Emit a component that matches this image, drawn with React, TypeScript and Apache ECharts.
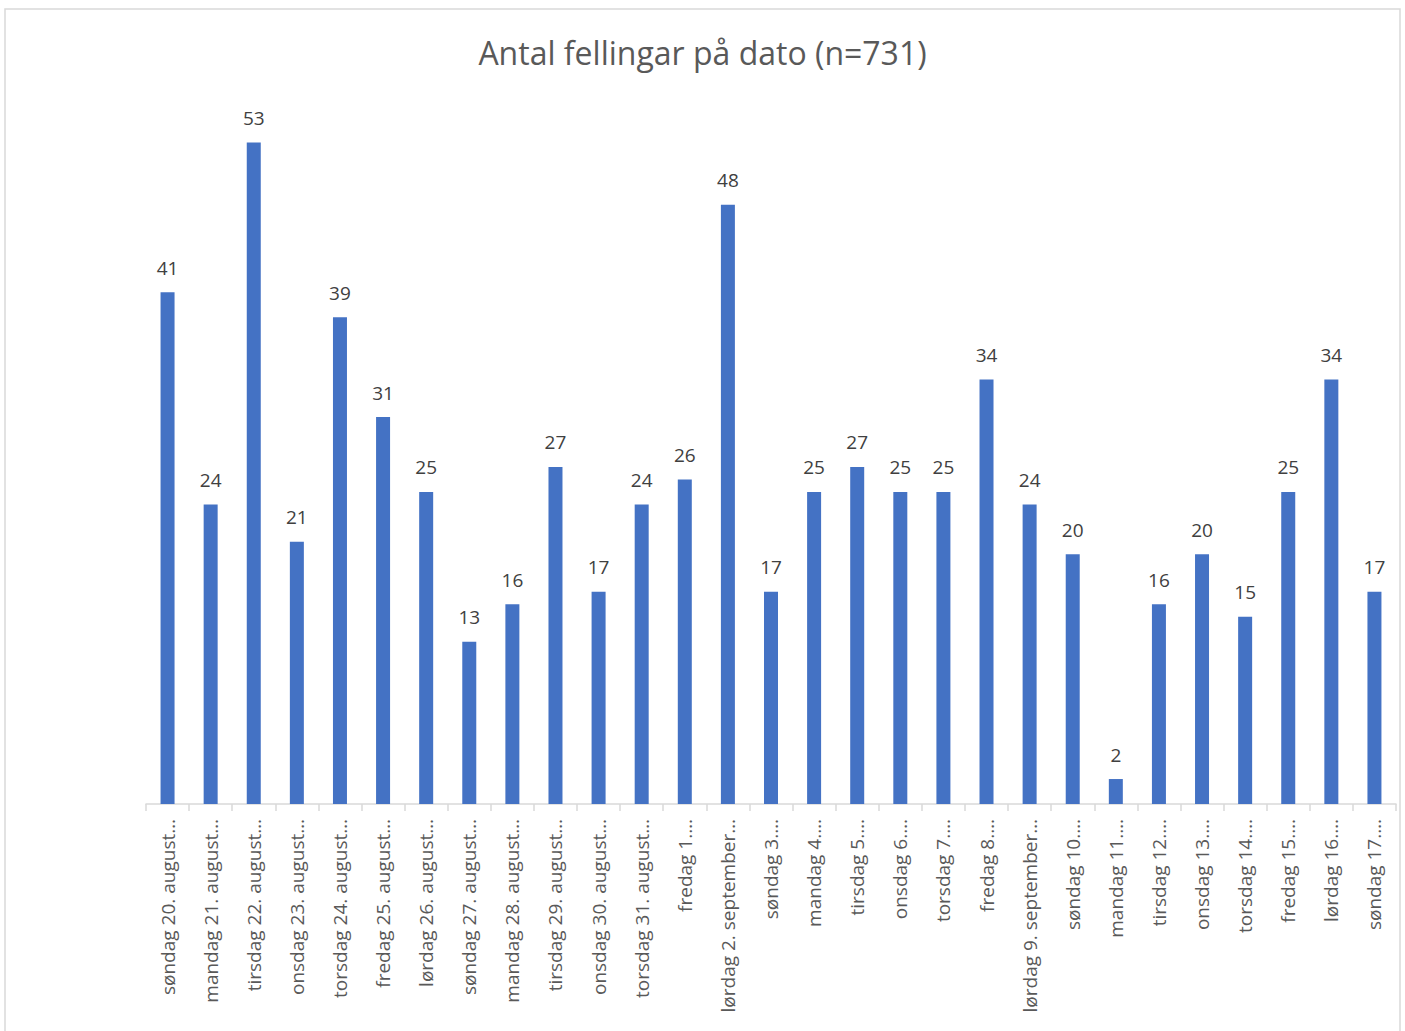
import React, { useEffect, useRef } from "react";
import * as echarts from "echarts";

const title = "Antal fellingar på dato (n=731)";

const categories = [
  "søndag 20. august…",
  "mandag 21. august…",
  "tirsdag 22. august…",
  "onsdag 23. august…",
  "torsdag 24. august…",
  "fredag 25. august…",
  "lørdag 26. august…",
  "søndag 27. august…",
  "mandag 28. august…",
  "tirsdag 29. august…",
  "onsdag 30. august…",
  "torsdag 31. august…",
  "fredag 1.…",
  "lørdag 2. september…",
  "søndag 3.…",
  "mandag 4.…",
  "tirsdag 5.…",
  "onsdag 6.…",
  "torsdag 7.…",
  "fredag 8.…",
  "lørdag 9. september…",
  "søndag 10.…",
  "mandag 11.…",
  "tirsdag 12.…",
  "onsdag 13.…",
  "torsdag 14.…",
  "fredag 15.…",
  "lørdag 16.…",
  "søndag 17.…",
];

const values = [
  41, 24, 53, 21, 39, 31, 25, 13, 16, 27, 17, 24, 26, 48, 17, 25, 27, 25, 25,
  34, 24, 20, 2, 16, 20, 15, 25, 34, 17,
];

export default function App() {
  const ref = useRef<HTMLDivElement>(null);
  useEffect(() => {
    if (!ref.current) return;
    const chart = echarts.init(ref.current, undefined, { renderer: "svg" });
    chart.setOption({
      animation: false,
      backgroundColor: "#ffffff",
      title: {
        text: title,
        left: "center",
        top: 31,
        textStyle: {
          fontFamily: "Open Sans",
          fontWeight: "normal",
          fontSize: 32,
          color: "#595959",
        },
      },
      graphic: [
        {
          type: "rect",
          shape: { x: 5, y: 9, width: 1395, height: 1040 },
          style: { fill: "none", stroke: "#d9d9d9", lineWidth: 1.5 },
          silent: true,
        },
      ],
      grid: { left: 146, right: 9, top: 55, bottom: 227, containLabel: false },
      xAxis: {
        type: "category",
        data: categories,
        axisLine: { lineStyle: { color: "#d9d9d9", width: 1.5 } },
        axisTick: { show: true, length: 7, lineStyle: { color: "#d9d9d9", width: 1.5 } },
        axisLabel: {
          interval: 0,
          rotate: 90,
          margin: 15,
          fontFamily: "Open Sans",
          fontSize: 19,
          color: "#595959",
        },
      },
      yAxis: {
        type: "value",
        min: 0,
        max: 60,
        show: false,
        splitLine: { show: false },
      },
      series: [
        {
          type: "bar",
          data: values,
          barWidth: 14,
          itemStyle: { color: "#4472C4" },
          label: {
            show: true,
            position: "top",
            distance: 15,
            fontFamily: "Open Sans",
            fontSize: 19,
            color: "#404040",
          },
        },
      ],
    });
    return () => chart.dispose();
  }, []);
  return (
    <div
      ref={ref}
      style={{ position: "absolute", left: 0, top: 0, width: 1405, height: 1031 }}
    />
  );
}
